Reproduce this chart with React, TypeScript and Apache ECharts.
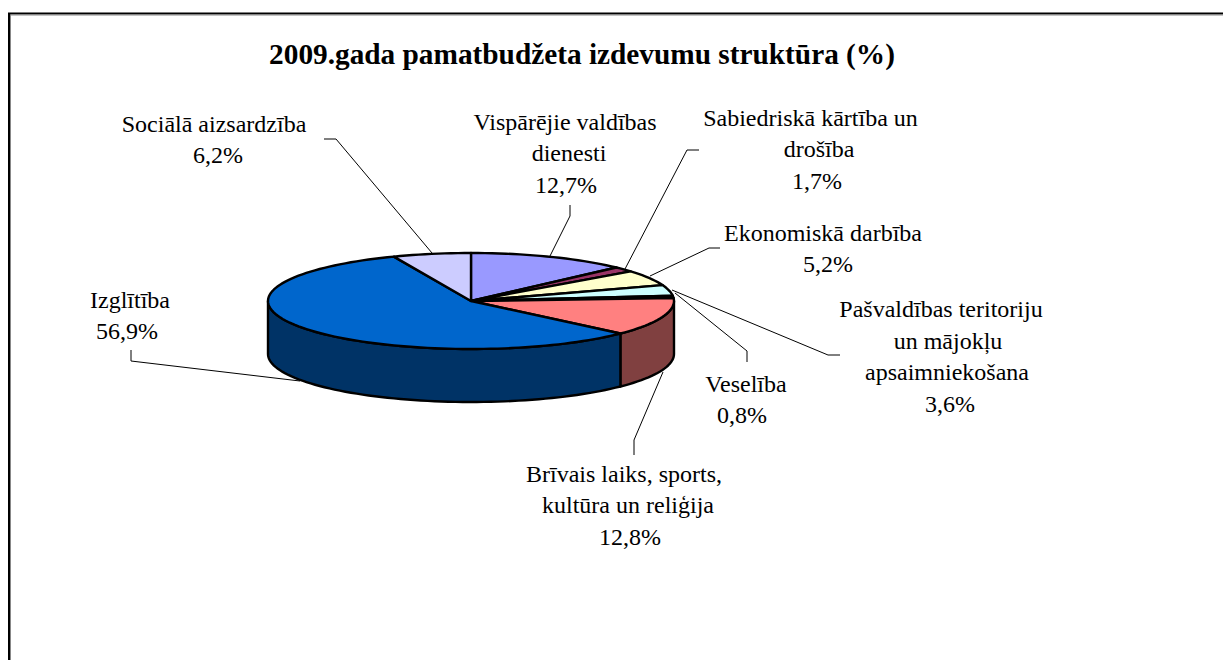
import React, { useEffect, useRef } from "react";
import * as echarts from "echarts";

const titleText = "2009.gada pamatbudžeta izdevumu struktūra (%)";
const categories = [
  "Vispārējie valdības\ndienesti",
  "Sabiedriskā kārtība un\ndrošība",
  "Ekonomiskā darbība",
  "Pašvaldības teritoriju\nun mājokļu\napsaimniekošana",
  "Veselība",
  "Brīvais laiks, sports,\nkultūra un reliģija",
  "Izglītība",
  "Sociālā aizsardzība",
];
const values = [12.7, 1.7, 5.2, 3.6, 0.8, 12.8, 56.9, 6.2];
const topColors = ["#9999FF", "#993366", "#FFFFCC", "#CCFFFF", "#660066", "#FF8080", "#0066CC", "#CCCCFF"];
const sideColors = ["#4D4D80", "#4D1A33", "#808066", "#668080", "#330033", "#804040", "#003366", "#666680"];

// layout only: centre x of each text line, top y of first line, leader line points (page pixels)
const labelLineCentres = [
  [565, 569, 566],
  [810.5, 819, 817],
  [823, 828],
  [941, 948, 947, 950],
  [746, 742],
  [624, 628, 630],
  [130, 127],
  [214, 218],
];
const labelTops = [106, 102, 217, 293.5, 368, 458, 284, 108];
const leaderLines = [
  [[570, 205], [570, 216], [550, 256]],
  [[699, 150], [687, 150], [625, 269]],
  [[720, 248], [709, 248], [650, 276]],
  [[840, 355], [828, 355], [672, 290]],
  [[747, 362], [747, 351], [675, 293]],
  [[634, 455], [634, 440], [663, 372]],
  [[131, 350], [131, 361], [300, 381]],
  [[324, 139], [336, 139], [432, 253]],
];

const CX = 471;
const CY = 301;
const RX = 203;
const RY = 48;
const DEPTH = 53;
const LINE_H = 31.5;
const FONT = '"Liberation Serif", "Times New Roman", serif';

const total = values.reduce((a, b) => a + b, 0);
const startOf = (i: number) => (values.slice(0, i).reduce((a, b) => a + b, 0) / total) * 360;
const pt = (deg: number, dy = 0) => {
  const r = (deg * Math.PI) / 180;
  return [CX + RX * Math.sin(r), CY - RY * Math.cos(r) + dy];
};
const arc = (a: number, b: number, dy = 0) => {
  const out: number[][] = [];
  const n = Math.max(1, Math.ceil((b - a) / 2));
  for (let k = 0; k <= n; k++) out.push(pt(a + ((b - a) * k) / n, dy));
  return out;
};

export default function App() {
  const ref = useRef<HTMLDivElement>(null);
  useEffect(() => {
    const chart = echarts.init(ref.current!, null, { renderer: "svg" });
    const seriesData = values.map((v, i) => ({ name: categories[i], value: v }));

    const frameLine = (x1: number, y1: number, x2: number, y2: number, color: string, w: number) => ({
      type: "line",
      silent: true,
      shape: { x1, y1, x2, y2 },
      style: { stroke: color, lineWidth: w },
    });

    chart.setOption({
      animation: false,
      backgroundColor: "#ffffff",
      title: {
        text: titleText,
        left: 577,
        top: 34,
        textAlign: "center",
        textStyle: { fontFamily: FONT, fontWeight: "bold", fontSize: 29.3, color: "#000" },
      },
      graphic: [
        frameLine(9, 13, 9, 660, "#000", 2),
        frameLine(10.5, 13, 10.5, 660, "#888", 1),
        frameLine(8, 13.5, 1223, 13.5, "#000", 2),
        frameLine(10, 15, 1223, 15, "#888", 1),
      ],
      series: [
        {
          type: "custom",
          name: "walls",
          coordinateSystem: "none",
          silent: true,
          z: 1,
          data: seriesData,
          renderItem: (params: any) => {
            const i = params.dataIndex;
            const a = Math.max(startOf(i), 90);
            const b = Math.min(startOf(i + 1), 270);
            if (b <= a) return { type: "group", children: [] };
            const upper = arc(a, b);
            const lower = arc(a, b, DEPTH).reverse();
            return {
              type: "polygon",
              shape: { points: [...upper, ...lower] },
              style: { fill: sideColors[i], stroke: "#000", lineWidth: 2.4, lineJoin: "round" },
            };
          },
        },
        {
          type: "custom",
          name: "tops",
          coordinateSystem: "none",
          silent: true,
          z: 2,
          data: seriesData,
          renderItem: (params: any) => {
            const i = params.dataIndex;
            return {
              type: "polygon",
              shape: { points: [[CX, CY], ...arc(startOf(i), startOf(i + 1))] },
              style: { fill: topColors[i], stroke: "#000", lineWidth: 2.4, lineJoin: "round" },
            };
          },
        },
        {
          type: "custom",
          name: "labels",
          coordinateSystem: "none",
          silent: true,
          z: 3,
          data: seriesData,
          renderItem: (params: any, api: any) => {
            const i = params.dataIndex;
            const v = api.value(0) as number;
            const lines = [...categories[i].split("\n"), `${v.toFixed(1).replace(".", ",")}%`];
            return {
              type: "group",
              children: [
                {
                  type: "polyline",
                  shape: { points: leaderLines[i] },
                  style: { fill: "none", stroke: "#000", lineWidth: 1 },
                },
                ...lines.map((text, k) => ({
                  type: "text",
                  x: labelLineCentres[i][k],
                  y: labelTops[i] + k * LINE_H,
                  style: {
                    text,
                    fill: "#000",
                    fontFamily: FONT,
                    fontSize: 24,
                    lineHeight: LINE_H,
                    align: "center",
                    verticalAlign: "top",
                  },
                })),
              ],
            };
          },
        },
      ],
    });
    return () => chart.dispose();
  }, []);
  return (
    <div
      ref={ref}
      style={{ position: "fixed", left: 0, top: 0, width: 1223, height: 660 }}
    />
  );
}
